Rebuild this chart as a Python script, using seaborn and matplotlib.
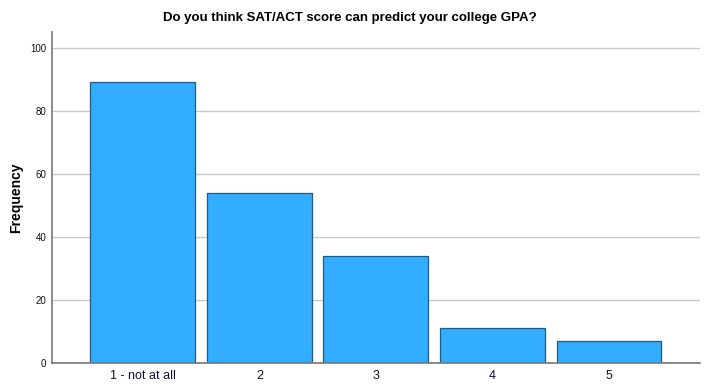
import pandas as pd
import seaborn as sns
import matplotlib.pyplot as plt

categories = ["1 - not at all", "2", "3", "4", "5"]
frequency = [89, 54, 34, 11, 7]
y_ticks = [0, 20, 40, 60, 80, 100]

df = pd.DataFrame({"answer": categories, "Frequency": frequency})

sns.set_theme(style="white")
plt.rcParams["font.family"] = ["Liberation Sans", "DejaVu Sans"]
plt.rcParams["text.color"] = "black"
plt.rcParams["axes.labelcolor"] = "black"

fig = plt.figure(figsize=(7.28, 3.89), dpi=100)
ax = fig.add_axes([0.0714, 0.0668, 0.89, 0.851])

ax.yaxis.grid(True, color="#c8c8c8", linewidth=1)
ax.set_axisbelow(True)

sns.barplot(data=df, x="answer", y="Frequency", color="#33adff",
            saturation=1, width=0.9, edgecolor="#1f5a85", linewidth=0.9, ax=ax)

ax.set_xlim(-0.78, 4.78)
ax.set_ylim(0, 105)
ax.set_yticks(y_ticks)
ax.tick_params(axis="y", labelsize=7, length=0, pad=4, colors="#111111")
ax.tick_params(axis="x", labelsize=9, length=0, pad=5, colors="#101030")
ax.set_xlabel("")
ax.set_ylabel("Frequency", fontsize=10, fontweight="bold", labelpad=5)

for side in ["top", "right"]:
    ax.spines[side].set_visible(False)
for side in ["left", "bottom"]:
    ax.spines[side].set_color("#777777")
    ax.spines[side].set_linewidth(1.2)

fig.text(350 / 728, 1 - 18 / 389, "Do you think SAT/ACT score can predict your college GPA?",
         ha="center", va="center", fontsize=9.5, fontweight="bold")

fig.savefig("out.png", dpi=100)
